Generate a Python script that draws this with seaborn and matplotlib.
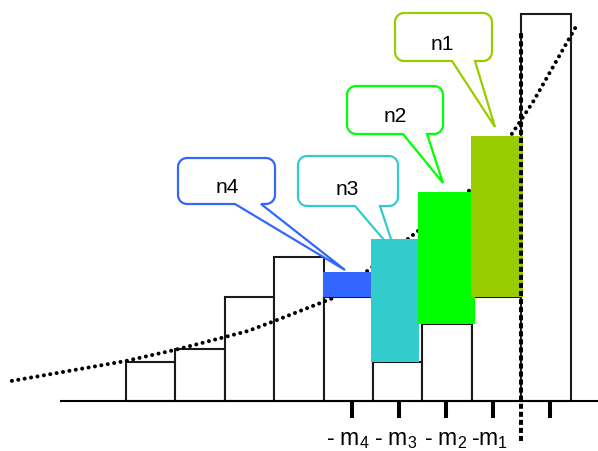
import numpy as np
import pandas as pd
import matplotlib
matplotlib.use("Agg")
import matplotlib.pyplot as plt
import seaborn as sns
from matplotlib.patches import Polygon

sns.set_theme(style="white")
plt.rcParams["font.family"] = ["Liberation Sans Narrow", "Liberation Sans", "DejaVu Sans"]
plt.rcParams["mathtext.default"] = "regular"

# ---------------- data ----------------
bin_edges = [0, 1, 2, 3, 4, 5, 6, 7, 8, 9]
bin_heights = [1.0, 1.34, 2.69, 3.72, 2.69, 1.0, 1.99, 2.69, 10.0]

curve_x = [-2.31, -0.02, 0.99, 1.54, 2.47, 2.91, 4.19, 6.96, 7.81, 8.24, 9.13]
curve_y = [0.52, 1.03, 1.32, 1.50, 1.81, 2.02, 2.66, 5.45, 6.90, 7.73, 9.72]

highlight_names = ["n4", "n3", "n2", "n1"]
highlight_left = [3.99, 4.96, 5.91, 6.98]
highlight_right = [4.98, 5.93, 7.06, 8.03]
highlight_bottom = [2.69, 1.0, 1.99, 2.69]
highlight_top = [3.34, 4.19, 5.40, 6.85]
highlight_colors = ["#3366FF", "#33CCCC", "#00FF00", "#99CC00"]

tick_pos = [4.57, 5.52, 6.48, 7.43, 8.58]
tick_labels = ["- m$_4$", "- m$_3$", "- m$_2$", "-m$_1$", ""]
threshold_x = 8.0

# ---------------- layout (pixels) ----------------
W, H = 598, 452
X0, Y0 = 126.0, 402.0      # pixel position of data origin
SX, SY = 49.4, 38.7        # pixels per data unit


def px2data(px, py):
    return (px - X0) / SX, (Y0 - py) / SY


fig = plt.figure(figsize=(W / 100, H / 100), dpi=100)
ax = fig.add_axes([0, 0, 1, 1])

# histogram bars (white)
centers = [(a + b) / 2 for a, b in zip(bin_edges[:-1], bin_edges[1:])]
sns.histplot(x=centers, weights=bin_heights, bins=bin_edges, color="white",
             edgecolor="#1a1a1a", linewidth=1.5, alpha=1, ax=ax, zorder=1)

# dotted curve
sns.lineplot(x=curve_x, y=curve_y, ax=ax, color="black", linewidth=2.9,
             linestyle=(0, (0.01, 1.6)), dash_capstyle="round", zorder=2,
             sort=True, estimator=None)

# callouts (pixel geometry)
callouts = {
    "n4": dict(box=(178, 159, 275, 205), base=(235, 261), tip=(345, 271), text=(227, 193)),
    "n3": dict(box=(298, 157, 398, 207), base=(355, 380), tip=(396, 255), text=(347, 195)),
    "n2": dict(box=(347, 87, 443, 135), base=(403, 427), tip=(443, 184), text=(395, 122)),
    "n1": dict(box=(395, 14, 492, 62), base=(452, 475), tip=(495, 128), text=(442, 50)),
}


def arc(cx, cy, r, a0, a1, n=8):
    t = np.linspace(np.radians(a0), np.radians(a1), n)
    return [(cx + r * np.cos(tt), cy + r * np.sin(tt)) for tt in t]


def callout_path(box, base, tip, r=9):
    L, T, R, B = box
    pts = []
    # top-left corner to top-right (y down)
    pts += arc(L + r, T + r, r, 180, 270)
    pts += arc(R - r, T + r, r, 270, 360)
    pts += arc(R - r, B - r, r, 0, 90)
    pts += [(base[1], B), tip, (base[0], B)]
    pts += arc(L + r, B - r, r, 90, 180)
    return [px2data(x, y) for x, y in pts]


for name, col in zip(highlight_names, highlight_colors):
    c = callouts[name]
    poly = Polygon(callout_path(c["box"], c["base"], c["tip"]), closed=True,
                   facecolor="white", edgecolor=col, linewidth=1.6, zorder=3,
                   joinstyle="miter")
    ax.add_patch(poly)
    tx, ty = px2data(*c["text"])
    ax.text(tx, ty, name, ha="center", va="baseline", fontsize=15,
            color="black", zorder=6)

# highlighted rectangles
widths = [r - l for l, r in zip(highlight_left, highlight_right)]
heights = [t - b for b, t in zip(highlight_bottom, highlight_top)]
ax.bar(highlight_left, heights, width=widths, bottom=highlight_bottom,
       align="edge", color=highlight_colors, edgecolor="none", linewidth=0,
       zorder=4)

# baseline
bx0, _ = px2data(60, 0)
bx1, _ = px2data(598, 0)
ax.hlines(0, bx0, bx1, color="black", linewidth=1.5, zorder=5)

# ticks + labels
_, tick_bottom = px2data(0, 419)
ax.vlines(tick_pos, tick_bottom, 0, color="black", linewidth=2.9, zorder=5)
label_offsets_px = [-4, -3, 0, -4, 0]
_, label_y = px2data(0, 445)
for p, lab, off in zip(tick_pos, tick_labels, label_offsets_px):
    if lab:
        ax.text(p + off / SX, label_y, lab, ha="center", va="baseline",
                fontsize=16.5, color="black")

# threshold dotted vertical line
_, vtop = px2data(0, 33)
_, vbot = px2data(0, 442)
ax.vlines(threshold_x, vbot, vtop, color="black", linewidth=2.9,
          linestyles=[(0, (1.25, 0.75))], zorder=7)

ax.set_xlim(px2data(0, 0)[0], px2data(W, 0)[0])
ax.set_ylim(px2data(0, H)[1], px2data(0, 0)[1])
ax.axis("off")

fig.savefig("out.png", dpi=100)
